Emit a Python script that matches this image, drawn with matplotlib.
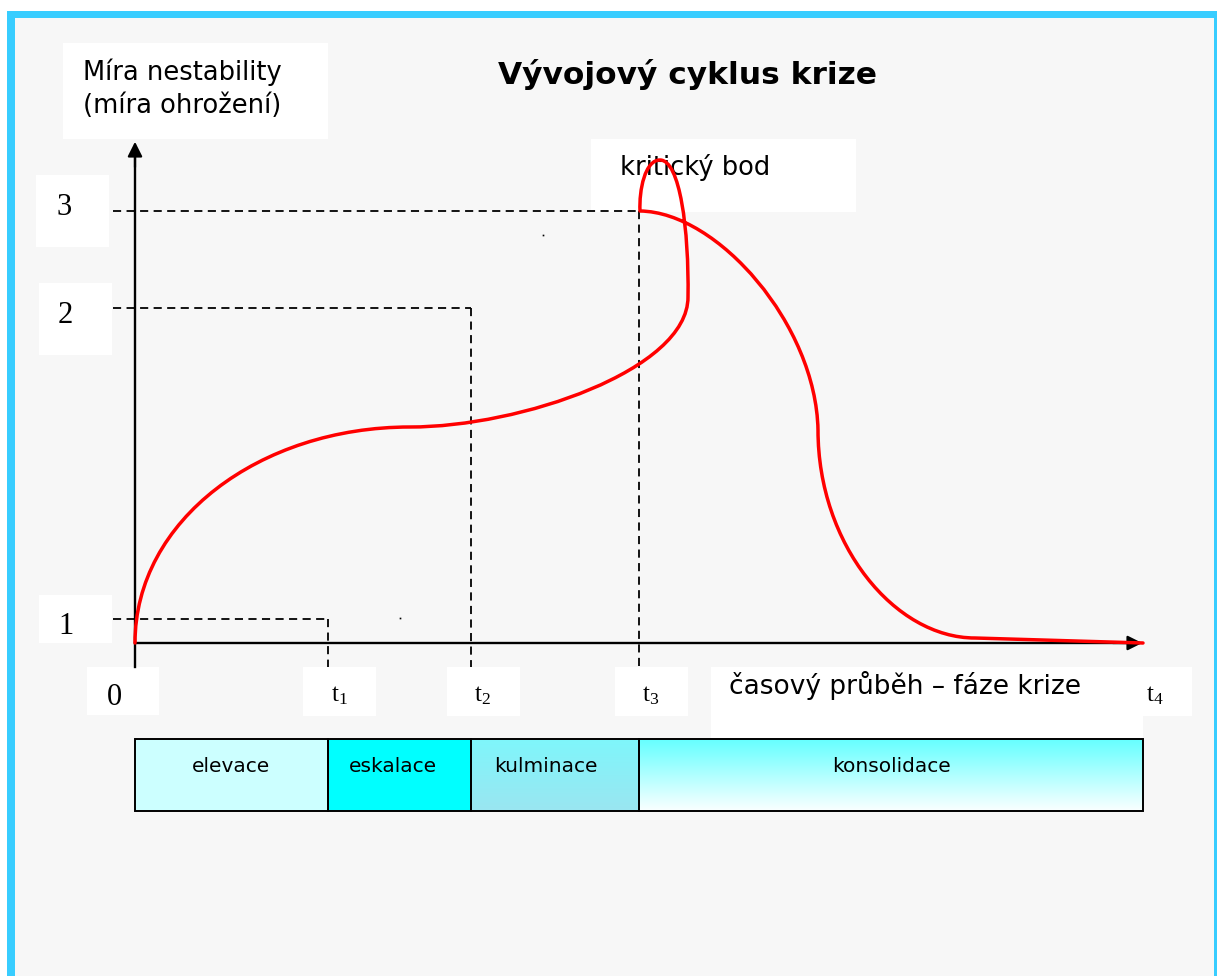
import matplotlib
matplotlib.use("Agg")
import matplotlib.pyplot as plt
import numpy as np
from matplotlib.path import Path
from matplotlib.patches import PathPatch, Rectangle
from matplotlib.colors import LinearSegmentedColormap

# diagram geometry (pixel coordinates, y grows downwards)
origin = (135, 643)
t_positions = [328, 471, 639, 1143]
t_labels = ["t_1", "t_2", "t_3", "t_4"]
level_values = ["1", "2", "3"]
level_y = [619, 308, 211]
level_x_end = [328, 471, 639]

phases = ["elevace", "eskalace", "kulminace", "konsolidace"]
phase_edges = [135, 328, 471, 639, 1143]
phase_text_x = [231, 393, 546, 891]

# crisis curve as cubic bezier segments: start, control 1, control 2, end
curve_x = [135, 135, 260, 410, 520, 688, 688,
           689, 680, 660, 645, 639, 640,
           718, 816, 818, 818, 895, 975, 1143]
curve_y = [643, 520, 427, 427, 427, 370, 297,
           230, 160, 160, 160, 190, 211,
           212, 325, 430, 545, 638, 638, 643]


def main():
    fig = plt.figure(figsize=(12.17, 9.76), dpi=100)
    fig.patch.set_facecolor("white")
    ax = fig.add_axes([0, 0, 1, 1])
    ax.set_xlim(0, 1217)
    ax.set_ylim(976, 0)
    ax.axis("off")

    # frame and background
    cyan = "#38CDFF"
    ax.add_patch(Rectangle((15, 18), 1199, 970, facecolor="#F7F7F7", edgecolor="none"))
    ax.add_patch(Rectangle((7, 11), 8, 970, facecolor=cyan, edgecolor="none"))
    ax.add_patch(Rectangle((7, 11), 1215, 7, facecolor=cyan, edgecolor="none"))
    ax.add_patch(Rectangle((1214, 11), 8, 970, facecolor=cyan, edgecolor="none"))

    # white label boxes
    boxes = [(63, 43, 265, 96), (36, 175, 73, 72), (39, 283, 73, 72),
             (39, 595, 73, 48), (87, 667, 72, 48), (303, 667, 73, 49),
             (447, 667, 73, 49), (615, 667, 73, 49), (711, 667, 481, 49),
             (711, 716, 432, 22), (591, 139, 265, 73)]
    for bx, by, bw, bh in boxes:
        ax.add_patch(Rectangle((bx, by), bw, bh, facecolor="white", edgecolor="none"))

    # dashed guide lines
    dash = dict(color="black", lw=1.3, dashes=(4.5, 3))
    for ly, lx in zip(level_y, level_x_end):
        ax.plot([113, lx], [ly, ly], **dash)
        ax.plot([lx, lx], [ly, 667], **dash)

    # axes with arrows
    ax.plot([origin[0], origin[0]], [667, 150], color="black", lw=1.7)
    ax.plot([origin[0], 1130], [origin[1], origin[1]], color="black", lw=1.7)
    ax.annotate("", xy=(135, 139), xytext=(135, 170),
                arrowprops=dict(arrowstyle="-|>", color="black", lw=1.6, mutation_scale=22))
    ax.annotate("", xy=(1145, 643), xytext=(1110, 643),
                arrowprops=dict(arrowstyle="-|>", color="black", lw=1.6, mutation_scale=22))

    # crisis curve
    verts = list(zip(curve_x, curve_y))
    codes = [Path.MOVETO] + [Path.CURVE4] * 18 + [Path.LINETO]
    ax.add_patch(PathPatch(Path(verts, codes), facecolor="none", edgecolor="#FF0000",
                           lw=2.5, capstyle="round", joinstyle="round", zorder=5))

    # tiny stray dots from the original drawing
    ax.plot([543, 400], [235, 618], "s", color="black", ms=1.2, mew=0)

    # texts
    sans = "DejaVu Sans"
    ax.text(83, 80, "Míra nestability", fontsize=18.5, family=sans)
    ax.text(83, 113, "(míra ohrožení)", fontsize=18.5, family=sans)
    ax.text(687, 74, "Vývojový cyklus krize", fontsize=22.5, family=sans,
            fontweight="bold", ha="center", va="center")
    ax.text(620, 175, "kritický bod", fontsize=18.5, family=sans)
    ax.text(729, 694, "časový průběh – fáze krize", fontsize=19, family=sans)

    serif = "Liberation Serif"
    for lab, ly in zip(level_values, [634, 323, 215]):
        lx = {"1": 66, "2": 65, "3": 64}[lab]
        ax.text(lx, ly, lab, fontsize=22, family=serif, ha="center")
    ax.text(114, 705, "0", fontsize=22, family=serif, ha="center")
    for tx, tl in zip(t_positions, t_labels):
        ax.text(tx + 3, 701, r"$\mathregular{" + tl + "}$", fontsize=18,
                family=serif, ha="left")

    # phase bar
    bar_top, bar_bot = 739, 811
    fills = ["#CCFFFF", "#00FFFF", None, None]
    grads = [None, None, ("#7FF6FB", "#9AE6F1"), ("#66FFFF", "#FAFFFF")]
    for i, name in enumerate(phases):
        x0, x1 = phase_edges[i], phase_edges[i + 1]
        if fills[i]:
            ax.add_patch(Rectangle((x0, bar_top), x1 - x0, bar_bot - bar_top,
                                   facecolor=fills[i], edgecolor="none"))
        else:
            cmap = LinearSegmentedColormap.from_list(name, list(grads[i]))
            grad = np.linspace(0, 1, 64).reshape(-1, 1)
            ax.imshow(grad, cmap=cmap, extent=(x0, x1, bar_bot, bar_top),
                      origin="upper", aspect="auto", zorder=1)
        ax.add_patch(Rectangle((x0, bar_top), x1 - x0, bar_bot - bar_top,
                               facecolor="none", edgecolor="black", lw=1.4, zorder=2))
        ax.text(phase_text_x[i], 772, name, fontsize=14.5, family=sans,
                ha="center", zorder=3)

    ax.set_xlim(0, 1217)
    ax.set_ylim(976, 0)
    fig.savefig("out.png", dpi=100, facecolor="white")


if __name__ == "__main__":
    main()
